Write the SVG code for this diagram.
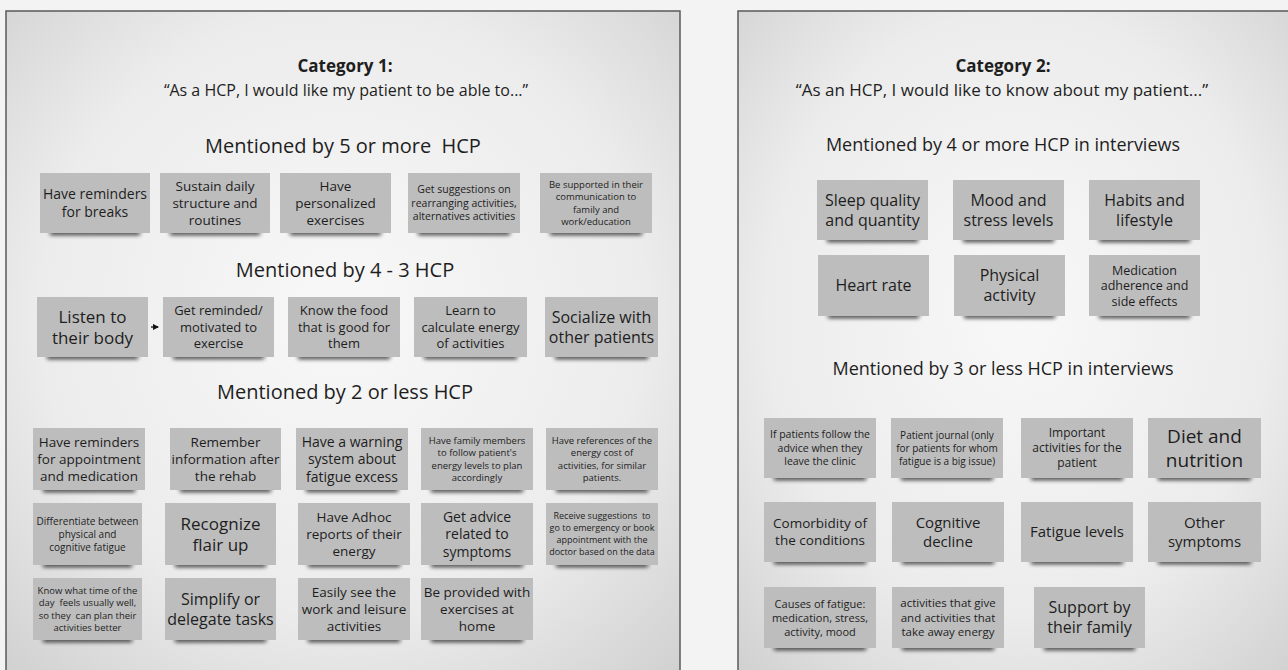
<svg xmlns="http://www.w3.org/2000/svg" width="1288" height="670" viewBox="0 0 1288 670">
<defs>
<radialGradient id="panelGrad" cx="0.5" cy="0.45" r="0.75">
<stop offset="0" stop-color="#f8f8f8"/>
<stop offset="0.6" stop-color="#ececec"/>
<stop offset="1" stop-color="#cfcfcf"/>
</radialGradient>
<filter id="blur" x="-20%" y="-200%" width="140%" height="500%">
<feGaussianBlur stdDeviation="2.2"/>
</filter>
<marker id="arrow" viewBox="0 0 6 6" refX="5" refY="3" markerWidth="5" markerHeight="5" orient="auto">
<path d="M0,0 L6,3 L0,6 z" fill="#111"/>
</marker>
</defs>
<style>
.panel{fill:url(#panelGrad);stroke:#5a5a5a;stroke-width:1.5}
.note{fill:#bdbdbd}
.shadow{fill:#111;opacity:0.8;filter:url(#blur)}
text{font-family:"Open Sans","Noto Sans","Liberation Sans",sans-serif;fill:#1e1e1e;text-anchor:middle}
.h1{font-size:17px;font-weight:bold}
.h2{font-size:16px}
.h2r{font-size:17px}
.h3{font-size:20px;white-space:pre}
.h3r{font-size:18px}
.conn{stroke:#111;stroke-width:1.3;fill:none}
</style>
<rect x="0" y="0" width="1288" height="670" fill="#f3f3f3"/>
<g id="panel1">
<rect class="panel" x="6" y="11" width="674" height="670"/>
<text class="h1" x="345" y="72">Category 1:</text>
<text class="h2" x="346" y="96">“As a HCP, I would like my patient to be able to...”</text>
<text class="h3" x="343" y="153" xml:space="preserve">Mentioned by 5 or more  HCP</text>
<text class="h3" x="345" y="277">Mentioned by 4 - 3 HCP</text>
<text class="h3" x="345" y="399">Mentioned by 2 or less HCP</text>
</g>
<g id="panel2">
<rect class="panel" x="738" y="11" width="560" height="670"/>
<text class="h1" x="1003" y="72">Category 2:</text>
<text class="h2r" x="1002" y="96">“As an HCP, I would like to know about my patient...”</text>
<text class="h3r" x="1003" y="151">Mentioned by 4 or more HCP in interviews</text>
<text class="h3r" x="1003" y="375">Mentioned by 3 or less HCP in interviews</text>
</g>

<!-- Left row 1 -->
<g id="n-breaks"><rect class="shadow" x="50" y="230" width="90" height="5"/><rect class="note" x="40" y="173" width="110" height="60"/><text font-size="14" x="95" y="199">Have reminders</text><text font-size="14" x="95" y="217">for breaks</text></g>
<g id="n-sustain"><rect class="shadow" x="170" y="230" width="90" height="5"/><rect class="note" x="160" y="173" width="110" height="60"/><text font-size="13.5" x="215" y="191">Sustain daily</text><text font-size="13.5" x="215" y="208">structure and</text><text font-size="13.5" x="215" y="225">routines</text></g>
<g id="n-personalized"><rect class="shadow" x="290" y="230" width="91" height="5"/><rect class="note" x="280" y="173" width="111" height="60"/><text font-size="13.5" x="335.5" y="191">Have</text><text font-size="13.5" x="335.5" y="208">personalized</text><text font-size="13.5" x="335.5" y="225">exercises</text></g>
<g id="n-suggestions"><rect class="shadow" x="418" y="230" width="92" height="5"/><rect class="note" x="408" y="173" width="112" height="60"/><text font-size="10.5" x="464" y="193.3">Get suggestions on</text><text font-size="10.5" x="464" y="206.8">rearranging activities,</text><text font-size="10.5" x="464" y="220.3">alternatives activities</text></g>
<g id="n-supported"><rect class="shadow" x="550" y="230" width="92" height="5"/><rect class="note" x="540" y="173" width="112" height="60"/><text font-size="9.5" x="596" y="187.7">Be supported in their</text><text font-size="9.5" x="596" y="200.2">communication to</text><text font-size="9.5" x="596" y="212.7">family and</text><text font-size="9.5" x="596" y="225.2">work/education</text></g>

<!-- Left row 2 -->
<g id="n-listen"><rect class="shadow" x="47" y="354" width="91" height="5"/><rect class="note" x="37" y="297" width="111" height="60"/><text font-size="17" x="92.5" y="322.6">Listen to</text><text font-size="17" x="92.5" y="343.6">their body</text></g>
<g id="n-reminded"><rect class="shadow" x="173" y="354" width="91" height="5"/><rect class="note" x="163" y="297" width="111" height="60"/><text font-size="13" x="218.5" y="315.2">Get reminded/</text><text font-size="13" x="218.5" y="331.7">motivated to</text><text font-size="13" x="218.5" y="348.2">exercise</text></g>
<g id="n-food"><rect class="shadow" x="298" y="354" width="92" height="5"/><rect class="note" x="288" y="297" width="112" height="60"/><text font-size="13" x="344" y="315.2">Know the food</text><text font-size="13" x="344" y="331.7">that is good for</text><text font-size="13" x="344" y="348.2">them</text></g>
<g id="n-calculate"><rect class="shadow" x="424" y="354" width="93" height="5"/><rect class="note" x="414" y="297" width="113" height="60"/><text font-size="13" x="470.5" y="315.2">Learn to</text><text font-size="13" x="470.5" y="331.7">calculate energy</text><text font-size="13" x="470.5" y="348.2">of activities</text></g>
<g id="n-socialize"><rect class="shadow" x="555" y="354" width="93" height="5"/><rect class="note" x="545" y="297" width="113" height="60"/><text font-size="16" x="601.5" y="322.8">Socialize with</text><text font-size="16" x="601.5" y="342.8">other patients</text></g>

<!-- Left row 3 -->
<g id="n-appointment"><rect class="shadow" x="43" y="487" width="92" height="5"/><rect class="note" x="33" y="428" width="112" height="62"/><text font-size="13.5" x="89" y="446.9">Have reminders</text><text font-size="13.5" x="89" y="463.9">for appointment</text><text font-size="13.5" x="89" y="480.9">and medication</text></g>
<g id="n-remember"><rect class="shadow" x="180" y="487" width="91" height="5"/><rect class="note" x="170" y="428" width="111" height="62"/><text font-size="13.5" x="225.5" y="446.9">Remember</text><text font-size="13.5" x="225.5" y="463.9">information after</text><text font-size="13.5" x="225.5" y="480.9">the rehab</text></g>
<g id="n-warning"><rect class="shadow" x="306" y="487" width="92" height="5"/><rect class="note" x="296" y="428" width="112" height="62"/><text font-size="14" x="352" y="446.5">Have a warning</text><text font-size="14" x="352" y="464">system about</text><text font-size="14" x="352" y="481.5">fatigue excess</text></g>
<g id="n-family"><rect class="shadow" x="431" y="487" width="92" height="5"/><rect class="note" x="421" y="428" width="112" height="62"/><text font-size="9.5" x="477" y="443.7">Have family members</text><text font-size="9.5" x="477" y="456.2">to follow patient's</text><text font-size="9.5" x="477" y="468.7">energy levels to plan</text><text font-size="9.5" x="477" y="481.2">accordingly</text></g>
<g id="n-references"><rect class="shadow" x="556" y="487" width="92" height="5"/><rect class="note" x="546" y="428" width="112" height="62"/><text font-size="9.5" x="602" y="443.7">Have references of the</text><text font-size="9.5" x="602" y="456.2">energy cost of</text><text font-size="9.5" x="602" y="468.7">activities, for similar</text><text font-size="9.5" x="602" y="481.2">patients.</text></g>

<!-- Left row 4 -->
<g id="n-differentiate"><rect class="shadow" x="43" y="562" width="89" height="5"/><rect class="note" x="33" y="503" width="109" height="62"/><text font-size="10" x="87.5" y="524.6">Differentiate between</text><text font-size="10" x="87.5" y="537.6">physical and</text><text font-size="10" x="87.5" y="550.6">cognitive fatigue</text></g>
<g id="n-recognize"><rect class="shadow" x="175" y="562" width="91" height="5"/><rect class="note" x="165" y="503" width="111" height="62"/><text font-size="17" x="220.5" y="529.6">Recognize</text><text font-size="17" x="220.5" y="550.6">flair up</text></g>
<g id="n-adhoc"><rect class="shadow" x="308" y="562" width="92" height="5"/><rect class="note" x="298" y="503" width="112" height="62"/><text font-size="13.5" x="354" y="521.9">Have Adhoc</text><text font-size="13.5" x="354" y="538.9">reports of their</text><text font-size="13.5" x="354" y="555.9">energy</text></g>
<g id="n-advice"><rect class="shadow" x="431" y="562" width="92" height="5"/><rect class="note" x="421" y="503" width="112" height="62"/><text font-size="14" x="477" y="521.5">Get advice</text><text font-size="14" x="477" y="539">related to</text><text font-size="14" x="477" y="556.5">symptoms</text></g>
<g id="n-emergency"><rect class="shadow" x="556" y="562" width="92" height="5"/><rect class="note" x="546" y="503" width="112" height="62"/><text font-size="9" x="602" y="519.2" xml:space="preserve">Receive suggestions  to</text><text font-size="9" x="602" y="531.2">go to emergency or book</text><text font-size="9" x="602" y="543.2">appointment with the</text><text font-size="9" x="602" y="555.2">doctor based on the data</text></g>

<!-- Left row 5 -->
<g id="n-time"><rect class="shadow" x="43" y="637" width="89" height="5"/><rect class="note" x="33" y="578" width="109" height="62"/><text font-size="9.5" x="87.5" y="593.7">Know what time of the</text><text font-size="9.5" x="87.5" y="606.2" xml:space="preserve">day  feels usually well,</text><text font-size="9.5" x="87.5" y="618.7" xml:space="preserve">so they  can plan their</text><text font-size="9.5" x="87.5" y="631.2">activities better</text></g>
<g id="n-simplify"><rect class="shadow" x="175" y="637" width="91" height="5"/><rect class="note" x="165" y="578" width="111" height="62"/><text font-size="16" x="220.5" y="604.8">Simplify or</text><text font-size="16" x="220.5" y="624.8">delegate tasks</text></g>
<g id="n-leisure"><rect class="shadow" x="308" y="637" width="92" height="5"/><rect class="note" x="298" y="578" width="112" height="62"/><text font-size="13.5" x="354" y="596.9">Easily see the</text><text font-size="13.5" x="354" y="613.9">work and leisure</text><text font-size="13.5" x="354" y="630.9">activities</text></g>
<g id="n-home"><rect class="shadow" x="431" y="637" width="92" height="5"/><rect class="note" x="421" y="578" width="112" height="62"/><text font-size="13.5" x="477" y="596.9">Be provided with</text><text font-size="13.5" x="477" y="613.9">exercises at</text><text font-size="13.5" x="477" y="630.9">home</text></g>

<!-- Right row 1 -->
<g id="n-sleep"><rect class="shadow" x="827" y="237" width="91" height="5"/><rect class="note" x="817" y="180" width="111" height="60"/><text font-size="16" x="872.5" y="205.8">Sleep quality</text><text font-size="16" x="872.5" y="225.8">and quantity</text></g>
<g id="n-mood"><rect class="shadow" x="963" y="237" width="91" height="5"/><rect class="note" x="953" y="180" width="111" height="60"/><text font-size="16" x="1008.5" y="205.8">Mood and</text><text font-size="16" x="1008.5" y="225.8">stress levels</text></g>
<g id="n-habits"><rect class="shadow" x="1099" y="237" width="91" height="5"/><rect class="note" x="1089" y="180" width="111" height="60"/><text font-size="16" x="1144.5" y="205.8">Habits and</text><text font-size="16" x="1144.5" y="225.8">lifestyle</text></g>

<!-- Right row 2 -->
<g id="n-heart"><rect class="shadow" x="828" y="313" width="91" height="5"/><rect class="note" x="818" y="255" width="111" height="61"/><text font-size="16" x="873.5" y="291.3">Heart rate</text></g>
<g id="n-physical"><rect class="shadow" x="964" y="313" width="91" height="5"/><rect class="note" x="954" y="255" width="111" height="61"/><text font-size="16" x="1009.5" y="281.3">Physical</text><text font-size="16" x="1009.5" y="301.3">activity</text></g>
<g id="n-medication"><rect class="shadow" x="1099" y="313" width="91" height="5"/><rect class="note" x="1089" y="255" width="111" height="61"/><text font-size="12.5" x="1144.5" y="274.5">Medication</text><text font-size="12.5" x="1144.5" y="290">adherence and</text><text font-size="12.5" x="1144.5" y="305.5">side effects</text></g>

<!-- Right row 3 -->
<g id="n-follow"><rect class="shadow" x="774" y="475" width="92" height="5"/><rect class="note" x="764" y="418" width="112" height="60"/><text font-size="10.5" x="820" y="438.3">If patients follow the</text><text font-size="10.5" x="820" y="451.8">advice when they</text><text font-size="10.5" x="820" y="465.3">leave the clinic</text></g>
<g id="n-journal"><rect class="shadow" x="901" y="475" width="92" height="5"/><rect class="note" x="891" y="418" width="112" height="60"/><text font-size="10" x="947" y="438.6">Patient journal (only</text><text font-size="10" x="947" y="451.6">for patients for whom</text><text font-size="10" x="947" y="464.6">fatigue is a big issue)</text></g>
<g id="n-important"><rect class="shadow" x="1031" y="475" width="92" height="5"/><rect class="note" x="1021" y="418" width="112" height="60"/><text font-size="12" x="1077" y="437.3">Important</text><text font-size="12" x="1077" y="452.3">activities for the</text><text font-size="12" x="1077" y="467.3">patient</text></g>
<g id="n-diet"><rect class="shadow" x="1158" y="475" width="93" height="5"/><rect class="note" x="1148" y="418" width="113" height="60"/><text font-size="19" x="1204.5" y="442.8">Diet and</text><text font-size="19" x="1204.5" y="466.8">nutrition</text></g>

<!-- Right row 4 -->
<g id="n-comorbidity"><rect class="shadow" x="774" y="559" width="92" height="5"/><rect class="note" x="764" y="502" width="112" height="60"/><text font-size="13.5" x="820" y="528.4">Comorbidity of</text><text font-size="13.5" x="820" y="545.4">the conditions</text></g>
<g id="n-cognitive"><rect class="shadow" x="902" y="559" width="92" height="5"/><rect class="note" x="892" y="502" width="112" height="60"/><text font-size="15" x="948" y="527.9">Cognitive</text><text font-size="15" x="948" y="546.9">decline</text></g>
<g id="n-fatigue"><rect class="shadow" x="1031" y="559" width="92" height="5"/><rect class="note" x="1021" y="502" width="112" height="60"/><text font-size="15" x="1077" y="537.4">Fatigue levels</text></g>
<g id="n-symptoms"><rect class="shadow" x="1158" y="559" width="93" height="5"/><rect class="note" x="1148" y="502" width="113" height="60"/><text font-size="15" x="1204.5" y="527.9">Other</text><text font-size="15" x="1204.5" y="546.9">symptoms</text></g>

<!-- Right row 5 -->
<g id="n-causes"><rect class="shadow" x="774" y="645" width="92" height="5"/><rect class="note" x="764" y="587" width="112" height="61"/><text font-size="11" x="820" y="607.5">Causes of fatigue:</text><text font-size="11" x="820" y="621.5">medication, stress,</text><text font-size="11" x="820" y="635.5">activity, mood</text></g>
<g id="n-energy"><rect class="shadow" x="902" y="645" width="92" height="5"/><rect class="note" x="892" y="587" width="112" height="61"/><text font-size="11.5" x="948" y="607.1">activities that give</text><text font-size="11.5" x="948" y="621.6">and activities that</text><text font-size="11.5" x="948" y="636.1">take away energy</text></g>
<g id="n-support"><rect class="shadow" x="1044" y="645" width="91" height="5"/><rect class="note" x="1034" y="587" width="111" height="61"/><text font-size="16" x="1089.5" y="613.3">Support by</text><text font-size="16" x="1089.5" y="633.3">their family</text></g>

<g id="connectors">
<line class="conn" x1="151" y1="327" x2="158" y2="327" marker-end="url(#arrow)"/>
</g>
</svg>
